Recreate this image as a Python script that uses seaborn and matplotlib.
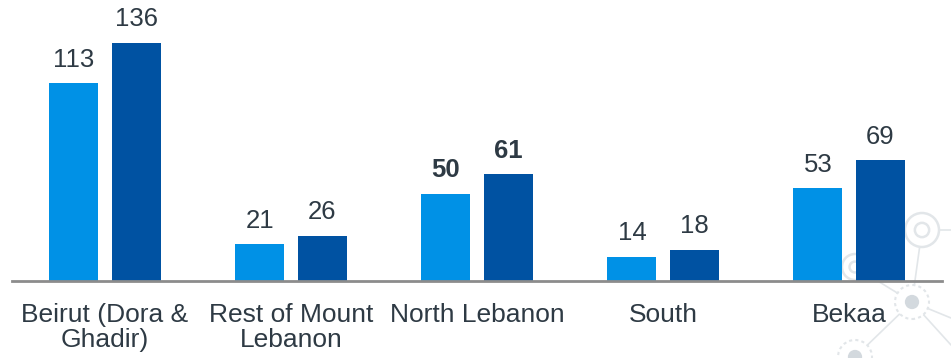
import matplotlib
matplotlib.use("Agg")
import matplotlib.pyplot as plt
import seaborn as sns
import pandas as pd
from matplotlib.patches import Circle
from matplotlib.lines import Line2D

categories = ["Beirut (Dora &\nGhadir)", "Rest of Mount\nLebanon", "North Lebanon", "South", "Bekaa"]
series_a = [113, 21, 50, 14, 53]
series_b = [136, 26, 61, 18, 69]
series_names = ["Series A", "Series B"]
bold_categories = ["North Lebanon"]

colors = ["#0091E6", "#0052A2"]
text_color = "#2E3A44"

df = pd.DataFrame({
    "category": categories * 2,
    "value": series_a + series_b,
    "series": [series_names[0]] * len(categories) + [series_names[1]] * len(categories),
})

sns.set_theme(style="white")
plt.rcParams['font.family'] = ['Liberation Sans', 'DejaVu Sans']

fig = plt.figure(figsize=(9.51, 3.58), dpi=100)
W, H = 951, 358

# decorative network graphic (background, bottom right)
deco_col = "#E2E6E9"
nodes = [(922, 230, 17, 'ring'), (855, 267, 13, 'ring'), (912, 302, 17, 'dot'), (855, 357, 17, 'dot')]
for (x1, y1), (x2, y2) in [((922, 230), (912, 302)), ((855, 267), (912, 302)),
                           ((912, 302), (855, 357)), ((912, 302), (951, 318)),
                           ((912, 302), (951, 345)), ((922, 230), (951, 230))]:
    fig.add_artist(Line2D([x1 / W, x2 / W], [1 - y1 / H, 1 - y2 / H],
                          transform=fig.transFigure, color=deco_col, lw=1.2, zorder=-3))
for (x, y, r, kind) in nodes:
    if kind == 'ring':
        fig.add_artist(Circle((x, H - y), r, transform=None, fill=True, fc="white",
                              ec=deco_col, lw=1.8, zorder=-2))
        fig.add_artist(Circle((x, H - y), r * 0.42, transform=None, fill=False,
                              ec=deco_col, lw=1.8, zorder=-1))
    else:
        fig.add_artist(Circle((x, H - y), r, transform=None, fill=True, fc="white",
                              ec=deco_col, lw=1.5, ls=(0, (1.5, 1.5)), zorder=-2))
        fig.add_artist(Circle((x, H - y), r * 0.42, transform=None, fill=True,
                              fc="#D3D9DE", ec="none", zorder=-1))

ax = fig.add_axes([12 / W, (H - 281) / H, 930 / W, 281 / H])
ax.patch.set_alpha(0)

sns.barplot(data=df, x="category", y="value", hue="series", palette=colors,
            width=0.667, gap=0.21, dodge=True, legend=False, ax=ax,
            saturation=1, edgecolor="none", linewidth=0)

ax.set_xlim(-0.5, 4.5)
ax.set_ylim(0, 160.6)

for container in ax.containers:
    for bar, cat in zip(container, categories):
        h = bar.get_height()
        bold = cat in bold_categories
        ax.annotate(f"{h:.0f}", (bar.get_x() + bar.get_width() / 2, h),
                    xytext=(0, 12), textcoords="offset points",
                    ha="center", va="baseline", fontsize=18.5,
                    fontweight="bold" if bold else "normal", color=text_color)

for s in ["top", "right", "left"]:
    ax.spines[s].set_visible(False)
ax.spines["bottom"].set_color("#8C8C8C")
ax.spines["bottom"].set_linewidth(2)
ax.set_yticks([])
ax.set_xlabel("")
ax.set_ylabel("")
ax.tick_params(axis="x", length=0, pad=16, labelsize=19, labelcolor=text_color)
for lbl in ax.get_xticklabels():
    lbl.set_linespacing(1.02)

fig.savefig("out.png", dpi=100)
